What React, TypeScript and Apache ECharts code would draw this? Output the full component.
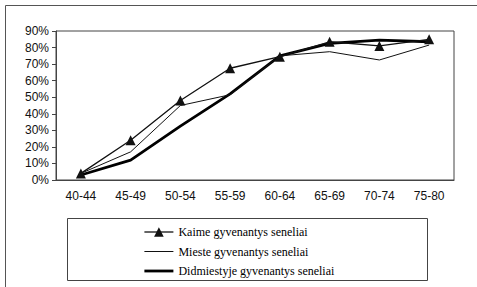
import React, { useEffect, useRef } from "react";
import * as echarts from "echarts";

const categories = ["40-44", "45-49", "50-54", "55-59", "60-64", "65-69", "70-74", "75-80"];
const kaime = [4, 24, 48, 67.5, 74.5, 83.5, 81, 85];
const mieste = [4, 17, 45, 51.5, 75, 77.5, 72.5, 81.5];
const didmiestyje = [3, 12, 32.5, 52, 75, 82.5, 84.5, 83.5];
const seriesNames = [
  "Kaime gyvenantys seneliai",
  "Mieste gyvenantys seneliai",
  "Didmiestyje gyvenantys seneliai",
];

export default function App() {
  const ref = useRef<HTMLDivElement>(null);
  useEffect(() => {
    if (!ref.current) return;
    const chart = echarts.init(ref.current, undefined, { renderer: "svg" });
    const axisColor = "#444";
    const hidden = { color: "rgba(0,0,0,0)", borderWidth: 0, opacity: 0 };
    const legendText = { color: "#000", fontFamily: "Liberation Serif", fontSize: 12 };
    chart.setOption({
      animation: false,
      backgroundColor: "#fff",
      grid: {
        left: 56,
        right: 23,
        top: 31,
        bottom: 107,
        show: true,
        borderColor: axisColor,
        borderWidth: 1,
      },
      xAxis: {
        type: "category",
        data: categories,
        boundaryGap: true,
        axisLine: { lineStyle: { color: axisColor } },
        axisTick: { length: 4, lineStyle: { color: axisColor } },
        axisLabel: {
          color: "#111",
          fontFamily: "Liberation Sans",
          fontSize: 12,
          margin: 10,
        },
        splitLine: { show: false },
      },
      yAxis: {
        type: "value",
        min: 0,
        max: 90,
        interval: 10,
        axisLine: { show: true, lineStyle: { color: axisColor } },
        axisTick: { show: true, length: 4, lineStyle: { color: axisColor } },
        axisLabel: {
          color: "#111",
          fontFamily: "Liberation Sans",
          fontSize: 12,
          margin: 7,
          formatter: (v: number) => v + "%",
        },
        splitLine: { show: false },
      },
      legend: {
        orient: "vertical",
        left: 143,
        top: 226,
        padding: 0,
        itemWidth: 29,
        itemHeight: 12,
        itemGap: 7.5,
        textStyle: legendText,
        data: [
          { name: seriesNames[0], lineStyle: { width: 1.3 } },
          { name: seriesNames[1], itemStyle: hidden, lineStyle: { width: 1 } },
          { name: seriesNames[2], itemStyle: hidden, lineStyle: { width: 2.8 } },
        ],
      },
      graphic: [
        {
          type: "line",
          shape: { x1: 5.5, y1: 5.5, x2: 477, y2: 5.5 },
          style: { stroke: "#555", lineWidth: 1 },
        },
        {
          type: "line",
          shape: { x1: 5.5, y1: 5.5, x2: 5.5, y2: 287 },
          style: { stroke: "#555", lineWidth: 1 },
        },
        {
          type: "rect",
          shape: { x: 67.5, y: 218.5, width: 360, height: 62 },
          style: { fill: "none", stroke: "#444", lineWidth: 1 },
          z: -1,
        },
      ],
      series: [
        {
          name: seriesNames[0],
          type: "line",
          data: kaime,
          symbol: "triangle",
          symbolSize: 10,
          lineStyle: { color: "#111", width: 1.3 },
          itemStyle: { color: "#111" },
          z: 3,
        },
        {
          name: seriesNames[1],
          type: "line",
          data: mieste,
          symbol: "none",
          lineStyle: { color: "#111", width: 1 },
          itemStyle: { color: "#111" },
          z: 2,
        },
        {
          name: seriesNames[2],
          type: "line",
          data: didmiestyje,
          symbol: "none",
          lineStyle: { color: "#000", width: 2.8 },
          itemStyle: { color: "#000" },
          z: 1,
        },
      ],
    });
    return () => chart.dispose();
  }, []);
  return (
    <div
      ref={ref}
      style={{ position: "fixed", left: 0, top: 0, width: 477, height: 287 }}
    />
  );
}
